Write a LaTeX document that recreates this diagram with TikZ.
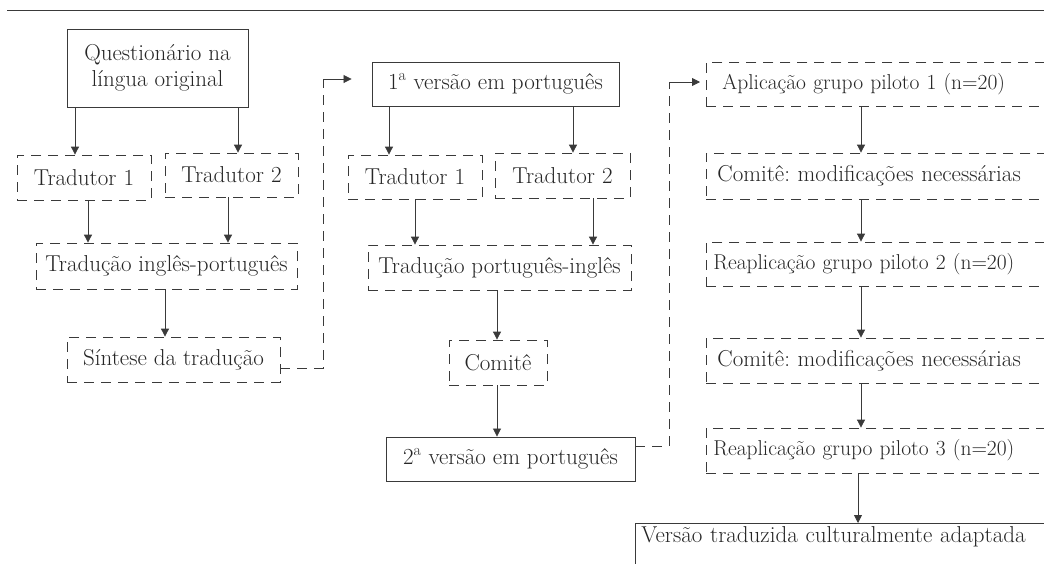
\documentclass[tikz,border=0pt]{standalone}
\usetikzlibrary{arrows.meta,calc}
\definecolor{ink}{HTML}{262626}
\definecolor{ln}{HTML}{3A3A3A}
\begin{document}
\frenchspacing
\begin{tikzpicture}[x=1pt,y=-1pt,
  every node/.style={text=ink,font=\fontsize{23}{26}\selectfont,inner sep=0pt,align=center},
  solidbox/.style={draw=ln,line width=0.9pt,rectangle},
  dashbox/.style={draw=ln,line width=0.8pt,rectangle,dash pattern=on 10pt off 7pt},
  rightbox/.style={dashbox,anchor=west,minimum width=360pt,text width=360pt,align=left},
  small/.style={font=\fontsize{21.5}{26}\selectfont},
  arr/.style={draw=ln,line width=0.8pt,-{Triangle[length=8pt,width=8pt]}},
  dconn/.style={draw=ln,line width=0.8pt,dash pattern=on 10pt off 7pt}]
\useasboundingbox (0,0) rectangle (1044,563);
\clip (0,0) rectangle (1044,563);
\draw[ln,line width=0.9pt] (7,10.5) -- (1044,10.5);
% column 1
\node[solidbox,minimum width=181pt,minimum height=78pt] (Q) at (157.5,68) {Questionário na\\língua original};
\node[dashbox,minimum width=134pt,minimum height=45pt] (T1a) at (84,177.5) {Tradutor 1};
\node[dashbox,minimum width=133pt,minimum height=44pt] (T2a) at (231.5,175) {Tradutor 2};
\node[dashbox,minimum width=261pt,minimum height=46pt] (TIP) at (166.5,266) {Tradução inglês-português};
\node[dashbox,minimum width=213pt,minimum height=45pt] (Sin) at (173.5,359.5) {Síntese da tradução};
% column 2
\node[solidbox,minimum width=247pt,minimum height=44pt] (V1) at (495.5,84) {1\textsuperscript{a} versão em português};
\node[dashbox,minimum width=134pt,minimum height=44pt] (T1b) at (415,177) {Tradutor 1};
\node[dashbox,minimum width=135pt,minimum height=45pt] (T2b) at (562.5,175.5) {Tradutor 2};
\node[dashbox,minimum width=263pt,minimum height=45pt] (TPI) at (499.5,267.5) {Tradução português-inglês};
\node[dashbox,minimum width=98pt,minimum height=45pt] (Com) at (498,362.5) {Comitê};
\node[solidbox,minimum width=249pt,minimum height=44pt] (V2) at (510.5,459) {2\textsuperscript{a} versão em português};
% column 3
\node[rightbox,small,minimum height=44pt] (A1) at (706,84) {\hspace{16pt}Aplicação grupo piloto 1 (n=20)};
\node[rightbox,minimum height=46pt] (C1) at (706,176) {\hspace{11pt}Comitê: modificações necessárias};
\node[rightbox,small,minimum height=44pt] (R2) at (706,264) {\hspace{7pt}Reaplicação grupo piloto 2 (n=20)};
\node[rightbox,minimum height=45pt] (C2) at (706,360.5) {\hspace{11pt}Comitê: modificações necessárias};
\node[rightbox,small,minimum height=45pt] (R3) at (706,450.5) {\hspace{7pt}Reaplicação grupo piloto 3 (n=20)};
\node[solidbox,minimum width=440pt,minimum height=50pt,anchor=north west,text width=440pt,align=left,text depth=28pt] (F) at (635,523) {\hspace{6pt}Versão traduzida culturalmente adaptada};
% arrows column 1
\draw[arr] (75,0 |- Q.south) -- (75,0 |- T1a.north);
\draw[arr] (238,0 |- Q.south) -- (238,0 |- T2a.north);
\draw[arr] (88,0 |- T1a.south) -- (88,0 |- TIP.north);
\draw[arr] (228,0 |- T2a.south) -- (228,0 |- TIP.north);
\draw[arr] (165,0 |- TIP.south) -- (165,0 |- Sin.north);
% connector 1
\coordinate (k1) at (323,368);
\coordinate (k1t) at (323,79);
\draw[dconn] (Sin.east |- k1) -- (k1) -- (k1t);
\draw[arr] (k1t) -- ([xshift=-20pt]V1.west |- k1t);
% arrows column 2
\draw[arr] (389,0 |- V1.south) -- (389,0 |- T1b.north);
\draw[arr] (573,0 |- V1.south) -- (573,0 |- T2b.north);
\draw[arr] (415,0 |- T1b.south) -- (415,0 |- TPI.north);
\draw[arr] (593,0 |- T2b.south) -- (593,0 |- TPI.north);
\draw[arr] (497,0 |- TPI.south) -- (497,0 |- Com.north);
\draw[arr] (497,0 |- Com.south) -- (497,0 |- V2.north);
% connector 2
\coordinate (k2) at (669,446);
\coordinate (k2t) at (669,82);
\draw[dconn] (V2.east |- k2) -- (k2) -- (k2t);
\draw[arr] (k2t) -- ([xshift=-6pt]A1.west |- k2t);
% arrows column 3
\draw[arr] (861,0 |- A1.south) -- (861,0 |- C1.north);
\draw[arr] (861,0 |- C1.south) -- (861,0 |- R2.north);
\draw[arr] (861,0 |- R2.south) -- (861,0 |- C2.north);
\draw[arr] (861,0 |- C2.south) -- (861,0 |- R3.north);
\draw[arr] (858,0 |- R3.south) -- (858,0 |- F.north);
\end{tikzpicture}
\end{document}
